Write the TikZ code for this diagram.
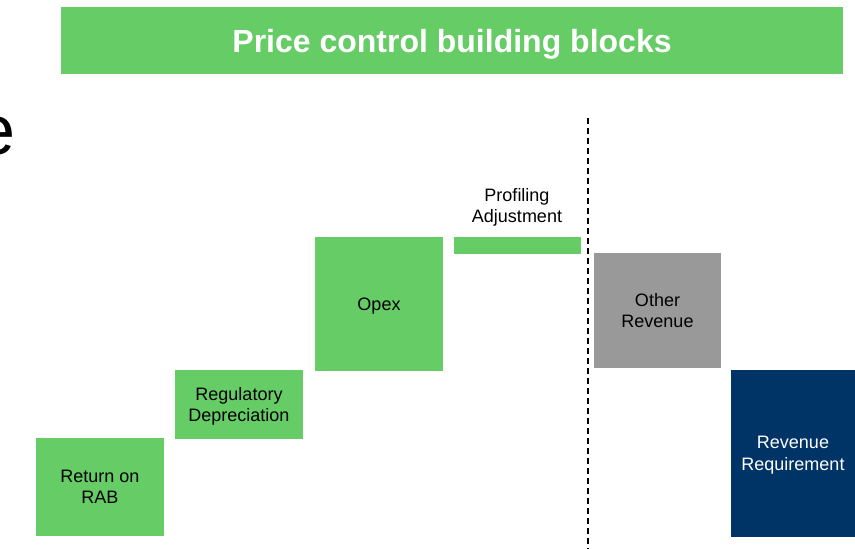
\documentclass[tikz,border=0pt]{standalone}
\usepackage{fontspec}
\setmainfont{Liberation Sans}
\usetikzlibrary{positioning}
\definecolor{blockgreen}{RGB}{102,204,102}
\definecolor{othergray}{RGB}{153,153,153}
\definecolor{reqnavy}{RGB}{0,51,102}
\begin{document}
\begin{tikzpicture}[
    x=1pt, y=-1pt,
    block/.style={rectangle, fill=blockgreen, inner sep=0pt, align=center, font=\fontsize{18}{21.5}\selectfont},
    heading/.style={rectangle, fill=blockgreen, inner sep=0pt, text depth=0pt, text=white, font=\fontsize{32}{36}\selectfont\bfseries}
]
    \useasboundingbox (0,0) rectangle (855,549);
    \clip (0,0) rectangle (855,549);

    % Title bar
    \node[heading, minimum width=782pt, minimum height=67pt] (title) at (452,40.5) {Price control building blocks};

    % Cut-off letter at left edge
    \node[anchor=base east, inner sep=0pt, font=\fontsize{70}{70}\selectfont] (cut) at (15.5,154) {e};

    % Building blocks
    \node[block, minimum width=128pt, minimum height=98pt] (rab) at (100,487) {Return on\\RAB};
    \node[block, minimum width=128pt, minimum height=69pt] (dep) at (239,404.5) {Regulatory\\\smash{Depreciation}};
    \node[block, text depth=0pt, minimum width=128pt, minimum height=134pt] (opex) at (379,304) {Opex};
    \node[block, minimum width=127pt, minimum height=17pt] (prof) at (517.5,245.5) {};
    \node[align=center, font=\fontsize{18}{21}\selectfont] (proflabel) at (517,205.3) {Profiling\\\smash{Adjustment}};

    % Divider
    \coordinate (divtop) at (587.5,118);
    \coordinate (divbot) at (587.5,549);
    \draw[line width=2pt, dash pattern=on 6pt off 4pt] (divtop) -- (divbot);

    % Right of divider
    \node[block, fill=othergray, minimum width=127pt, minimum height=115pt] (other) at (657.5,310.5) {Other\\Revenue};
    \node[block, fill=reqnavy, text=white, minimum width=124pt, minimum height=167pt] (req) at (793,453.5) {Revenue\\\smash{Requirement}};
\end{tikzpicture}
\end{document}
